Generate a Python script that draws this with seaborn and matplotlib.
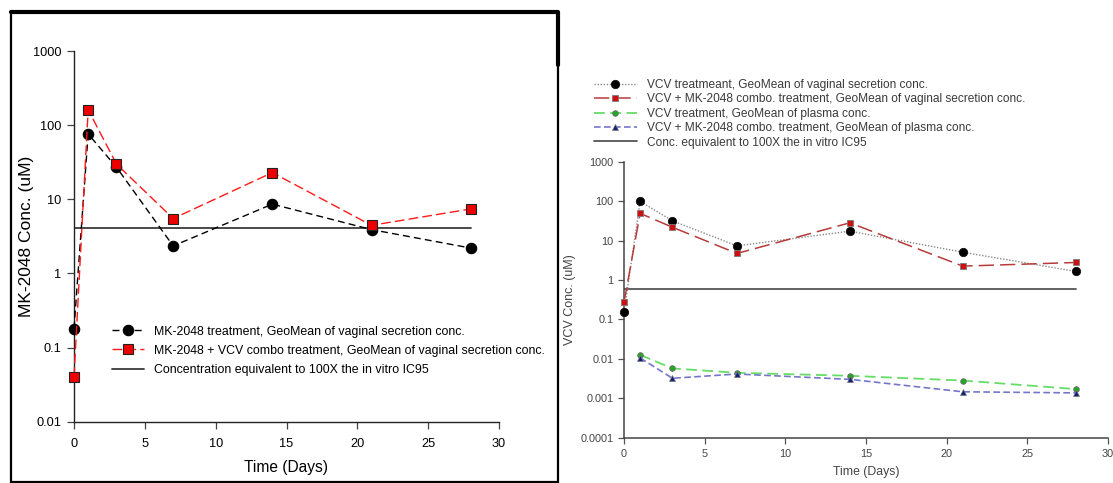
import matplotlib
matplotlib.use("Agg")
import matplotlib.pyplot as plt
import matplotlib.ticker as mticker
from matplotlib.lines import Line2D
from matplotlib.patches import Rectangle
import seaborn as sns
import pandas as pd

# ---------------- data ----------------
days = [0, 1, 3, 7, 14, 21, 28]
mk_vag = [0.18, 76, 27, 2.35, 8.6, 3.9, 2.2]
mk_combo_vag = [0.04, 161, 29.8, 5.5, 22.9, 4.45, 7.4]
mk_ic95_x = [0, 28]
mk_ic95_y = [4.13, 4.13]

vcv_vag = [0.15, 100, 32, 7.4, 17.5, 5.1, 1.66]
vcv_combo_vag = [0.27, 49.5, 22, 4.75, 28.5, 2.26, 2.8]
days_plasma = [1, 3, 7, 14, 21, 28]
vcv_plasma = [0.0126, 0.0057, 0.0044, 0.0037, 0.0028, 0.0017]
vcv_combo_plasma = [0.0105, 0.0032, 0.0041, 0.0030, 0.00145, 0.00136]
vcv_ic95_x = [0, 28]
vcv_ic95_y = [0.59, 0.59]

x_ticks = [0, 5, 10, 15, 20, 25, 30]
left_yticks = [0.01, 0.1, 1, 10, 100, 1000]
left_yticklabels = ["0.01", "0.1", "1", "10", "100", "1000"]
right_yticks = [0.0001, 0.001, 0.01, 0.1, 1, 10, 100, 1000]
right_yticklabels = ["0.0001", "0.001", "0.01", "0.1", "1", "10", "100", "1000"]

left_labels = [
    "MK-2048 treatment, GeoMean of vaginal secretion conc.",
    "MK-2048 + VCV combo treatment, GeoMean of vaginal secretion conc.",
    "Concentration equivalent to 100X the in vitro IC95",
]
right_labels = [
    "VCV treatmeant, GeoMean of vaginal secretion conc.",
    "VCV + MK-2048 combo. treatment, GeoMean of vaginal secretion conc.",
    "VCV treatment, GeoMean of plasma conc.",
    "VCV + MK-2048 combo. treatment, GeoMean of plasma conc.",
    "Conc. equivalent to 100X the in vitro IC95",
]

# ---------------- style ----------------
sns.set_theme(style="ticks")
plt.rcParams["font.family"] = ["Liberation Sans", "DejaVu Sans"]

W, H = 1113, 483
fig = plt.figure(figsize=(W / 100, H / 100), dpi=100)
fig.patch.set_facecolor("white")


def px_axes(x0, x1, ytop, ybot):
    return fig.add_axes([x0 / W, (H - ybot) / H, (x1 - x0) / W, (ybot - ytop) / H])


# ---------------- left panel ----------------
axL = px_axes(74, 499, 51, 421.7)
sns.lineplot(x=days, y=mk_vag, ax=axL, color="black", linewidth=1.0,
             linestyle=(0, (5, 3)), marker="o", markersize=7.5,
             markeredgecolor="black", markerfacecolor="black",
             markeredgewidth=0.8, clip_on=False, label=left_labels[0],
             legend=False, zorder=3)
sns.lineplot(x=days, y=mk_combo_vag, ax=axL, color="#ff1a1a", linewidth=1.0,
             linestyle=(0, (7, 3)), marker="s", markersize=7,
             markeredgecolor="#222222", markerfacecolor="#ee0000",
             markeredgewidth=0.8, clip_on=False, label=left_labels[1],
             legend=False, zorder=4)
sns.lineplot(x=mk_ic95_x, y=mk_ic95_y, ax=axL, color="#3a3a3a", linewidth=1.3,
             label=left_labels[2], legend=False, zorder=2)

axL.set_yscale("log")
axL.set_xlim(0, 30)
axL.set_ylim(0.01, 1000)
axL.yaxis.set_major_locator(mticker.FixedLocator(left_yticks))
axL.yaxis.set_major_formatter(mticker.FixedFormatter(left_yticklabels))
axL.yaxis.set_minor_locator(mticker.NullLocator())
axL.xaxis.set_major_locator(mticker.FixedLocator(x_ticks))
axL.set_xticklabels([str(t) for t in x_ticks])
for s in ["top", "right"]:
    axL.spines[s].set_visible(False)
for s in ["left", "bottom"]:
    axL.spines[s].set_color("#222222")
    axL.spines[s].set_linewidth(1.0)
axL.tick_params(axis="both", direction="out", length=5, width=0.9,
                color="#444444", labelcolor="black", labelsize=9.2)
axL.tick_params(axis="x", pad=7)
axL.tick_params(axis="y", pad=4)
axL.set_xlabel("Time (Days)", fontsize=11.2, labelpad=7, color="black")
axL.set_ylabel("MK-2048 Conc. (uM)", fontsize=12.5, color="black")
axL.yaxis.set_label_coords(-0.094, 0.5)
axL.set_facecolor("white")

hL = axL.get_lines()
legL = axL.legend(handles=hL, labels=left_labels, loc="upper left",
                  bbox_to_anchor=(0.075, 0.276), frameon=False, borderpad=0,
                  handlelength=2.55, handletextpad=0.85, labelspacing=0.58,
                  prop={"size": 8.95})
for t in legL.get_texts():
    t.set_color("black")

# border around left panel
fig.add_artist(Rectangle((11 / W, (H - 482) / H), (558 - 11) / W, (482 - 12) / H,
                         transform=fig.transFigure, fill=False,
                         edgecolor="black", linewidth=1.6))
fig.add_artist(Line2D([11 / W, 558 / W, 558 / W],
                      [(H - 12) / H, (H - 12) / H, (H - 65) / H],
                      transform=fig.transFigure, color="black", linewidth=3))

# ---------------- right panel ----------------
axR = px_axes(624, 1108, 162, 437.5)
sns.lineplot(x=days, y=vcv_vag, ax=axR, color="#8a8a8a", linewidth=1.0,
             linestyle=(0, (1, 1.2)), marker="o", markersize=6,
             markeredgecolor="#111111", markerfacecolor="black",
             markeredgewidth=0.6, clip_on=False, label=right_labels[0],
             legend=False, zorder=3)
sns.lineplot(x=days, y=vcv_combo_vag, ax=axR, color="#b83a3a", linewidth=1.1,
             linestyle=(0, (10, 4)), marker="s", markersize=5,
             markeredgecolor="#7a7a7a", markerfacecolor="#d01010",
             markeredgewidth=0.6, clip_on=False, label=right_labels[1],
             legend=False, zorder=4)
sns.lineplot(x=days_plasma, y=vcv_plasma, ax=axR, color="#66dd66", linewidth=1.3,
             linestyle=(0, (6, 3)), marker="o", markersize=4,
             markeredgecolor="#666666", markerfacecolor="#22aa22",
             markeredgewidth=0.6, clip_on=False, label=right_labels[2],
             legend=False, zorder=3)
sns.lineplot(x=days_plasma, y=vcv_combo_plasma, ax=axR, color="#7575cc", linewidth=1.2,
             linestyle=(0, (4, 2)), marker="^", markersize=4.5,
             markeredgecolor="#777777", markerfacecolor="#10207a",
             markeredgewidth=0.5, clip_on=False, label=right_labels[3],
             legend=False, zorder=4)
sns.lineplot(x=vcv_ic95_x, y=vcv_ic95_y, ax=axR, color="#555555", linewidth=1.3,
             label=right_labels[4], legend=False, zorder=2)

axR.set_yscale("log")
axR.set_xlim(0, 30)
axR.set_ylim(0.0001, 1000)
axR.yaxis.set_major_locator(mticker.FixedLocator(right_yticks))
axR.yaxis.set_major_formatter(mticker.FixedFormatter(right_yticklabels))
axR.yaxis.set_minor_locator(mticker.NullLocator())
axR.xaxis.set_major_locator(mticker.FixedLocator(x_ticks))
axR.set_xticklabels([str(t) for t in x_ticks])
for s in ["top", "right"]:
    axR.spines[s].set_visible(False)
for s in ["left", "bottom"]:
    axR.spines[s].set_color("#444444")
    axR.spines[s].set_linewidth(1.1)
axR.tick_params(axis="both", direction="out", length=4, width=0.9,
                color="#555555", labelcolor="#444444", labelsize=7.8)
axR.tick_params(axis="x", pad=4.5)
axR.tick_params(axis="y", pad=3.5)
axR.set_xlabel("Time (Days)", fontsize=8.8, labelpad=5, color="#444444")
axR.set_ylabel("VCV Conc. (uM)", fontsize=9, labelpad=3, color="#444444")
axR.set_facecolor("white")

hR = axR.get_lines()
legR = fig.legend(handles=hR, labels=right_labels, loc="upper left",
                  bbox_to_anchor=(588 / W, (H - 73) / H), frameon=False,
                  borderpad=0, handlelength=3.6, handletextpad=0.8,
                  labelspacing=0.2, prop={"size": 8.6})
for t in legR.get_texts():
    t.set_color("#3a3a3a")

fig.savefig("out.png", dpi=100, facecolor="white")
